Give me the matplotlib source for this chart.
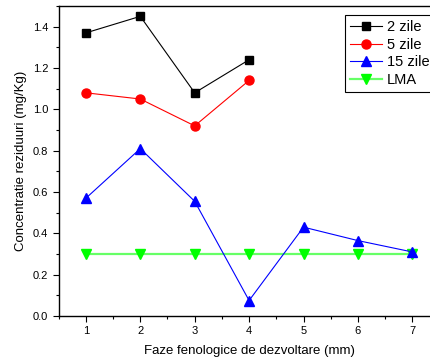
import matplotlib.pyplot as plt
from matplotlib.ticker import MultipleLocator

plt.rcParams['font.family'] = ['Liberation Sans', 'DejaVu Sans']

faze = [1, 2, 3, 4, 5, 6, 7]
zile2 = [1.37, 1.45, 1.08, 1.24]
zile5 = [1.08, 1.05, 0.92, 1.14]
zile15 = [0.57, 0.81, 0.555, 0.075, 0.43, 0.365, 0.31]
lma = [0.30, 0.30, 0.30, 0.30, 0.30, 0.30, 0.30]

fig = plt.figure(figsize=(4.3, 3.62), dpi=100)
ax = fig.add_axes([0.1365, 0.127, 0.8856, 0.8564])

ax.plot(faze, lma, color='#66ff66', lw=1.6, marker='v', ms=7,
        mfc='#00ff00', mec='#00ff00', label='LMA', zorder=2)
ax.plot(faze[:4], zile2, color='black', lw=0.8, marker='s', ms=6,
        label='2 zile', zorder=3)
ax.plot(faze[:4], zile5, color='red', lw=0.8, marker='o', ms=6.5,
        label='5 zile', zorder=3)
ax.plot(faze, zile15, color='blue', lw=0.8, marker='^', ms=7,
        label='15 zile', zorder=3)

ax.set_xlim(0.5, 7.5)
ax.set_ylim(0, 1.5)
ax.xaxis.set_major_locator(MultipleLocator(1))
ax.xaxis.set_minor_locator(MultipleLocator(0.5))
ax.yaxis.set_major_locator(MultipleLocator(0.2))
ax.yaxis.set_minor_locator(MultipleLocator(0.1))
ax.tick_params(which='both', direction='out', labelsize=8, width=0.8)
ax.tick_params(which='major', length=4)
ax.tick_params(which='minor', length=2.5)
ax.yaxis.set_major_formatter(plt.FuncFormatter(lambda v, p: f'{v:.1f}'))
for s in ax.spines.values():
    s.set_linewidth(1.0)

ax.set_xlabel('Faze fenologice de dezvoltare (mm)', fontsize=9.5, labelpad=6)
ax.set_ylabel('Concentratie reziduuri (mg/Kg)', fontsize=9.5, labelpad=4)

h, l = ax.get_legend_handles_labels()
order = [1, 2, 3, 0]
leg = ax.legend([h[i] for i in order], [l[i] for i in order],
                loc='upper left', bbox_to_anchor=(0.752, 0.971),
                fontsize=10.5, handlelength=2.2, handletextpad=0.3,
                borderpad=0.35, labelspacing=0.25, fancybox=False,
                framealpha=1, edgecolor='black', borderaxespad=0)
leg.get_frame().set_linewidth(0.8)

fig.savefig('out.png', dpi=100)
